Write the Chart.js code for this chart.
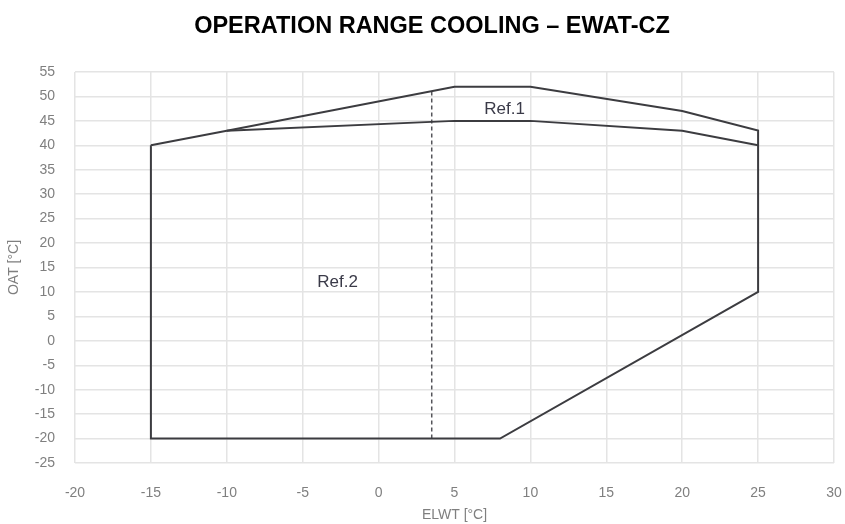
<!DOCTYPE html>
<html>
<head>
<meta charset="utf-8">
<script src="https://cdn.jsdelivr.net/npm/chart.js@4/dist/chart.umd.min.js"></script>
<style>
  html, body { margin: 0; padding: 0; background: #fff; }
  #wrap { width: 845px; height: 524px; }
</style>
</head>
<body>
<div id="wrap"><canvas id="myChart" width="845" height="524"></canvas></div>
<script>
// outer envelope (Ref.2 + Ref.1 top)
let outerX = [-15, -10, 5, 10, 20, 25, 25, 8, -15, -15];
let outerY = [40, 43, 52, 52, 47, 43, 10, -20, -20, 40];
// inner boundary between Ref.1 and Ref.2
let innerX = [-10, 5, 10, 20, 25];
let innerY = [43, 45, 45, 43, 40];
// dashed split line
let dashX = [3.5, 3.5];
let dashY = [-20, 51.1];
// labels inside the envelope
let labelText = ['Ref.1', 'Ref.2'];
let labelX = [8.3, -2.7];
let labelY = [47.4, 12];

const chartTitle = 'OPERATION RANGE COOLING – EWAT-CZ';
const fontFam = '"Liberation Sans", Arial, sans-serif';

function toPoints(xs, ys) {
  return xs.map((x, i) => ({ x: x, y: ys[i] }));
}

const lineColor = '#3c3c40';

const labelPlugin = {
  id: 'refLabels',
  afterDatasetsDraw(chart) {
    const c = chart.ctx;
    const sx = chart.scales.x;
    const sy = chart.scales.y;
    c.save();
    c.font = '17px ' + fontFam;
    c.fillStyle = '#3a3a48';
    c.textAlign = 'center';
    c.textBaseline = 'middle';
    labelText.forEach((t, i) => {
      c.fillText(t, sx.getPixelForValue(labelX[i]), sy.getPixelForValue(labelY[i]));
    });
    // title
    c.font = 'bold 23.5px ' + fontFam;
    c.fillStyle = '#000';
    c.fillText(chartTitle, 432, 27);
    c.restore();
  }
};

let ctx = document.getElementById('myChart').getContext('2d');
let chart = new Chart(ctx, {
  type: 'scatter',
  data: {
    datasets: [
      {
        data: toPoints(outerX, outerY),
        showLine: true,
        borderColor: lineColor,
        borderWidth: 2,
        pointRadius: 0,
        tension: 0
      },
      {
        data: toPoints(innerX, innerY),
        showLine: true,
        borderColor: lineColor,
        borderWidth: 2,
        pointRadius: 0,
        tension: 0
      },
      {
        data: toPoints(dashX, dashY),
        showLine: true,
        borderColor: '#55555a',
        borderWidth: 1.5,
        borderDash: [4, 3],
        pointRadius: 0
      }
    ]
  },
  options: {
    responsive: false,
    animation: false,
    layout: { padding: { left: 0, right: 0, top: 72, bottom: 0 } },
    plugins: {
      legend: { display: false },
      tooltip: { enabled: false },
      title: { display: false }
    },
    scales: {
      x: {
        type: 'linear',
        min: -20,
        max: 30,
        afterFit(scale) {
          scale.height = 61;
          scale.paddingLeft = 0;
          scale.paddingRight = 11;
        },
        ticks: {
          stepSize: 5,
          color: '#7f7f7f',
          font: { family: fontFam, size: 14 },
          padding: 22
        },
        grid: { color: '#e4e4e4', lineWidth: 1.5, drawTicks: false },
        border: { display: false },
        title: {
          display: true,
          text: 'ELWT [°C]',
          color: '#7f7f7f',
          font: { family: fontFam, size: 14 },
          padding: { top: 0, bottom: 0 }
        }
      },
      y: {
        type: 'linear',
        min: -25,
        max: 55,
        afterFit(scale) {
          scale.width = 75;
          scale.paddingTop = 0;
          scale.paddingBottom = 0;
        },
        ticks: {
          stepSize: 5,
          color: '#7f7f7f',
          font: { family: fontFam, size: 14 },
          padding: 20
        },
        grid: { color: '#e4e4e4', lineWidth: 1.5, drawTicks: false },
        border: { display: false },
        title: {
          display: true,
          text: 'OAT [°C]',
          color: '#7f7f7f',
          font: { family: fontFam, size: 14 },
          padding: { top: 6, bottom: 0 }
        }
      }
    }
  },
  plugins: [labelPlugin]
});
</script>
</body>
</html>
